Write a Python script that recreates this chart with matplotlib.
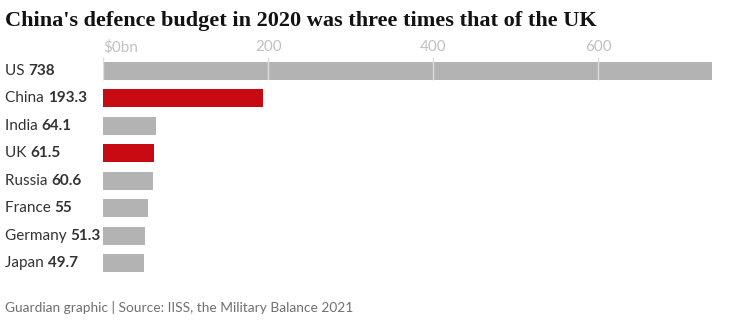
import matplotlib.pyplot as plt

countries = ['US', 'China', 'India', 'UK', 'Russia', 'France', 'Germany', 'Japan']
budgets = [738, 193.3, 64.1, 61.5, 60.6, 55, 51.3, 49.7]
value_labels = ['738', '193.3', '64.1', '61.5', '60.6', '55', '51.3', '49.7']
highlight = ['China', 'UK']
ticks = [0, 200, 400, 600]
tick_labels = ['$0bn', '200', '400', '600']

GREY = '#b3b3b3'
RED = '#c80a12'
SANS = 'Lato'

fig = plt.figure(figsize=(7.4, 3.21), dpi=100)
ax = fig.add_axes([103 / 740, 44 / 321, 611 / 740, 220 / 321])

colors = [RED if c in highlight else GREY for c in countries]
ax.barh(range(len(countries)), budgets, height=0.65, color=colors, zorder=2)
ax.set_xlim(0, 740)
ax.set_ylim(len(countries) - 0.5, -0.5)

# short grid marks from the labels through the first bar only
ax.vlines(ticks, -0.5, 0.33, color='#dcdcdc', lw=1, zorder=3)

ax.xaxis.tick_top()
ax.set_xticks(ticks)
ax.set_xticklabels(tick_labels, fontsize=11, color='#c0c0c0', family=SANS)
ax.get_xticklabels()[0].set_horizontalalignment('left')
ax.tick_params(axis='x', length=0, pad=2)
ax.set_yticks([])
for s in ax.spines.values():
    s.set_visible(False)

fig.canvas.draw()
r = fig.canvas.get_renderer()
for i, (c, v) in enumerate(zip(countries, value_labels)):
    t = ax.annotate(c + ' ', xy=(5 / 740, i), xycoords=('figure fraction', 'data'),
                    va='center', ha='left', fontsize=11, color='#333333', family=SANS)
    w = t.get_window_extent(renderer=r).width
    ax.annotate(v, xy=(5 / 740, i), xycoords=('figure fraction', 'data'),
                xytext=(w * 72 / fig.dpi, 0), textcoords='offset points',
                va='center', ha='left', fontsize=11, color='#333333',
                fontweight='bold', family=SANS)

fig.text(5 / 740, 1 - 21 / 321, "China's defence budget in 2020 was three times that of the UK",
         fontsize=16, fontweight='bold', family='Liberation Serif', color='#121212',
         va='center', ha='left')
fig.text(5 / 740, 1 - 308 / 321, 'Guardian graphic | Source: IISS, the Military Balance 2021',
         fontsize=9.9, color='#707070', family=SANS, va='center', ha='left')

fig.savefig('out.png', dpi=100)
